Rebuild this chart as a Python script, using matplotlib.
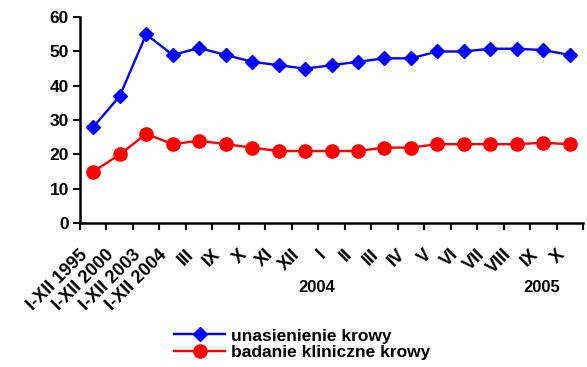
import numpy as np
import matplotlib.pyplot as plt
from matplotlib.ticker import FixedLocator
from matplotlib.transforms import blended_transform_factory, ScaledTranslation

plt.rcParams['font.family'] = ['Liberation Sans', 'DejaVu Sans']
plt.rcParams['font.weight'] = 'bold'

# ============================================================
# DATA
# ============================================================
categories = ["I-XII 1995", "I-XII 2000", "I-XII 2003", "I-XII 2004",
              "III", "IX", "X", "XI", "XII",
              "I", "II", "III", "IV", "V", "VI", "VII", "VIII", "IX", "X"]
unasienienie = [28, 37, 55, 49, 51, 49, 47, 46, 45, 46, 47, 48, 48, 50, 50, 50.8, 50.8, 50.4, 49]
badanie = [15, 20, 26, 23, 24, 23, 22, 21, 21, 21, 21, 22, 22, 23, 23, 23, 23, 23.4, 23]
year_labels = ["2004", "2005"]
year_pos = [8.45, 16.95]

# ============================================================
# PLOT
# ============================================================
fig = plt.figure(figsize=(5.87, 3.67), dpi=100)
ax = fig.add_axes([0.1363, 0.392, 0.8569, 0.5613])

x = np.arange(len(categories))
ax.plot(x, unasienienie, color="#0000FF", lw=1.7, marker="D", ms=7,
        label="unasienienie krowy")
ax.plot(x, badanie, color="#FF0000", lw=1.7, marker="o", ms=9.5,
        label="badanie kliniczne krowy")

ax.set_xlim(-0.5, len(categories) - 0.5)
ax.set_ylim(0, 60)
ax.set_yticks(range(0, 61, 10))

# tick marks between categories, labels drawn by hand (left of centre)
ax.set_xticks([])
ax.xaxis.set_minor_locator(FixedLocator(np.arange(-0.5, len(categories), 1.0)))
ax.tick_params(axis="x", which="minor", length=5, width=1.5, direction="out")
ax.tick_params(axis="y", length=5, width=1.5, labelsize=12.5, pad=3)
for lbl in ax.get_yticklabels():
    lbl.set_fontweight("bold")

lab_trans = (blended_transform_factory(ax.transData, ax.transAxes)
             + ScaledTranslation(-14 / 100, -23 / 100, fig.dpi_scale_trans))
for xi, cat in zip(x, categories):
    ax.text(xi, 0, cat, transform=lab_trans, rotation=45, rotation_mode="anchor",
            ha="right", va="top", fontsize=13, fontweight="bold", clip_on=False)

for side in ["top", "right"]:
    ax.spines[side].set_visible(False)
for side in ["left", "bottom"]:
    ax.spines[side].set_linewidth(1.8)

trans = blended_transform_factory(ax.transData, fig.transFigure)
for lab, pos in zip(year_labels, year_pos):
    ax.text(pos, 1 - 288 / 367, lab, transform=trans, ha="center", va="center",
            fontsize=12, fontweight="bold")

fig.legend(loc="center", bbox_to_anchor=(0.515, 1 - 344 / 367), frameon=False,
           handlelength=2.9, labelspacing=0.05, handletextpad=0.35,
           borderpad=0, prop={"weight": "bold", "size": 12.5})

fig.savefig("out.png", dpi=100)
